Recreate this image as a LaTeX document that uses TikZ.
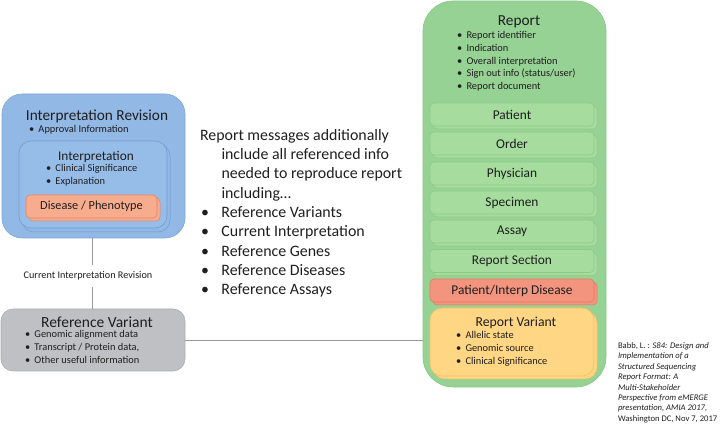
\documentclass[tikz,border=0pt]{standalone}
\usepackage{fontspec}
\setmainfont{Carlito}
\definecolor{irfill}{RGB}{146,184,230}
\definecolor{irdraw}{RGB}{125,165,215}
\definecolor{intfill}{RGB}{150,188,232}
\definecolor{intdraw}{RGB}{115,155,210}
\definecolor{disfill}{RGB}{247,172,142}
\definecolor{disdraw}{RGB}{228,132,102}
\definecolor{rvfill}{RGB}{190,192,196}
\definecolor{rvdraw}{RGB}{172,174,178}
\definecolor{repfill}{RGB}{150,210,148}
\definecolor{repdraw}{RGB}{135,198,132}
\definecolor{subfill}{RGB}{166,220,158}
\definecolor{subdraw}{RGB}{140,202,134}
\definecolor{pidfill}{RGB}{243,148,126}
\definecolor{piddraw}{RGB}{226,122,100}
\definecolor{varfill}{RGB}{255,214,132}
\definecolor{vardraw}{RGB}{245,190,100}
\definecolor{txt}{RGB}{30,30,30}
\newcommand\bl[1]{\makebox[9.5pt][l]{\textbullet}#1}
\begin{document}
\begin{tikzpicture}[x=1pt,y=-1pt,
  every node/.style={inner sep=0pt,outer sep=0pt,text=txt},
  box/.style={draw,line width=0.6pt,rounded corners=#1,minimum width=0pt,minimum height=0pt},
  title/.style={font=\fontsize{15.3}{17}\selectfont},
  sub/.style={font=\fontsize{13.4}{15}\selectfont},
  lst/.style={font=\fontsize{10.4}{12.7}\selectfont,align=left,anchor=north west},
  conn/.style={draw=gray!80,line width=0.6pt}]
\useasboundingbox (0,0) rectangle (720,427);
% Interpretation Revision
\node[box=20pt,fill=irfill,draw=irdraw,minimum width=183pt,minimum height=144pt] (ir) at (93.5,166) {};
\node[title] (irt) at (97,116) {Interpretation Revision};
\node[lst] (irl) at (29,125) {\bl{Approval Information}};
\draw[intdraw,line width=0.5pt,rounded corners=12pt] (22,144) rectangle (170,232);
\node[box=12pt,fill=intfill,draw=intdraw,minimum width=148pt,minimum height=87pt] (int) at (93,184.5) {};
\node[font=\fontsize{13.3}{15}\selectfont] (intt) at (96,157) {Interpretation};
\node[lst] (intl) at (46,164.5) {\bl{Clinical Significance}\\\bl{Explanation}};
\draw[disdraw,fill=disfill,line width=0.5pt,rounded corners=4pt] (29,198) rectangle (160,221);
\node[box=4pt,fill=disfill,draw=disdraw,minimum width=131pt,minimum height=23pt,font=\fontsize{12.3}{14}\selectfont] (dis) at (91.5,206.5) {Disease / Phenotype};
% Reference Variant
\node[box=12pt,fill=rvfill,draw=rvdraw,minimum width=184pt,minimum height=62pt] (rv) at (93,340) {};
\node[font=\fontsize{15.5}{17}\selectfont] (rvt) at (97,322) {Reference Variant};
\node[lst] (rvl) at (25,330.5) {\bl{Genomic alignment data}\\\bl{Transcript / Protein data,}\\\bl{Other useful information}};
% connector label
\node[font=\fontsize{10.2}{12}\selectfont,fill=white,inner sep=1pt] (cir) at (88,276) {Current Interpretation Revision};
\draw[conn] (ir.south -| 92,0) -- (92,265);
\draw[conn] (92,287) -- (rv.north -| 92,0);
% Report
\node[box=30pt,fill=repfill,draw=repdraw,minimum width=183pt,minimum height=386pt] (rep) at (514.5,194) {};
\draw[conn] (rv.east) -- (rv.east -| rep.west);
\node[title] (rept) at (519,22) {Report};
\node[lst] (repl) at (457,31.5) {\bl{Report identifier}\\\bl{Indication}\\\bl{Overall interpretation}\\\bl{Sign out info (status/user)}\\\bl{Report document}};
\foreach \n/\t/\yc in {pat/Patient/114.5,ord/Order/143.5,phy/Physician/173.5,spe/Specimen/202.5,ass/Assay/231.5,rse/Report Section/261}{
  \draw[subdraw,fill=subfill,line width=0.5pt,rounded corners=4pt] (433,\yc-8.5) rectangle (597,\yc+14.5);
  \node[box=4pt,fill=subfill,draw=subdraw,minimum width=164pt,minimum height=23pt,sub] (\n) at (512,\yc) {\t};
}
\draw[piddraw,fill=pidfill,line width=0.5pt,rounded corners=4pt] (433,282) rectangle (597,305);
\node[box=4pt,fill=pidfill,draw=piddraw,minimum width=164pt,minimum height=23pt,sub] (pid) at (512,290.5) {Patient/Interp Disease};
\draw[vardraw,fill=varfill,line width=0.5pt,rounded corners=12pt] (433,311) rectangle (597,379);
\node[box=12pt,fill=varfill,draw=vardraw,minimum width=164pt,minimum height=68pt] (var) at (512,342) {};
\node[font=\fontsize{13.7}{15}\selectfont] (vart) at (516,323) {Report Variant};
\node[lst] (varl) at (456,331.5) {\bl{Allelic state}\\\bl{Genomic source}\\\bl{Clinical Significance}};
% middle text
\node[font=\fontsize{15.9}{19.35}\selectfont,align=left,anchor=north west] (msg) at (200,129) {Report messages additionally\\\hspace*{21.5pt}include all referenced info\\\hspace*{21.5pt}needed to reproduce report\\\hspace*{21.5pt}including\ldots\\\makebox[21.5pt][l]{\hspace*{1pt}\textbullet}Reference Variants\\\makebox[21.5pt][l]{\hspace*{1pt}\textbullet}Current Interpretation\\\makebox[21.5pt][l]{\hspace*{1pt}\textbullet}Reference Genes\\\makebox[21.5pt][l]{\hspace*{1pt}\textbullet}Reference Diseases\\\makebox[21.5pt][l]{\hspace*{1pt}\textbullet}Reference Assays};
% citation
\node[font=\fontsize{8.6}{10.4}\selectfont,align=left,anchor=north west] (cit) at (618,342.5) {Babb, L. : \textit{S84: Design and}\\\textit{Implementation of a}\\\textit{Structured Sequencing}\\\textit{Report Format: A}\\\textit{Multi-Stakeholder}\\\textit{Perspective from eMERGE}\\\textit{presentation, AMIA 2017,}\\Washington DC, Nov 7, 2017};
\end{tikzpicture}
\end{document}
